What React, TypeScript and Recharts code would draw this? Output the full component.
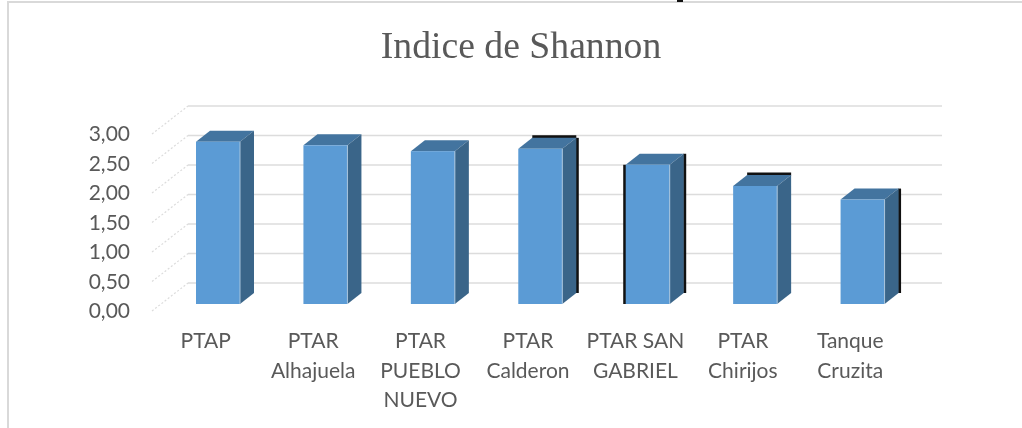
import { Bar, BarChart, CartesianGrid, XAxis, YAxis } from "recharts";

const categories = [
  "PTAP",
  "PTAR Alhajuela",
  "PTAR PUEBLO NUEVO",
  "PTAR Calderon",
  "PTAR SAN GABRIEL",
  "PTAR Chirijos",
  "Tanque Cruzita",
];
const shannon = [2.75, 2.69, 2.59, 2.63, 2.36, 2.0, 1.77];
const yTicks = [0, 0.5, 1, 1.5, 2, 2.5, 3];

// the axis labels wrap differently from what the width would give
const categoryLines: Record<string, string[]> = {
  PTAP: ["PTAP"],
  "PTAR Alhajuela": ["PTAR", "Alhajuela"],
  "PTAR PUEBLO NUEVO": ["PTAR", "PUEBLO", "NUEVO"],
  "PTAR Calderon": ["PTAR", "Calderon"],
  "PTAR SAN GABRIEL": ["PTAR SAN", "GABRIEL"],
  "PTAR Chirijos": ["PTAR", "Chirijos"],
  "Tanque Cruzita": ["Tanque", "Cruzita"],
};

const chartData = categories.map((name, i) => ({ name, shannon: shannon[i] }));

const FONT = "Lato, 'Open Sans', sans-serif";
const TEXT = "#595959";
const GRID = "#dcdcdc";

// fake 3D: where the bar sits in the box and how deep it is
const BAR_DX = 12;
const BAR_DY = -7;
const DEPTH_X = 14;
const DEPTH_Y = -11;
const WALL_DX = 36;
const WALL_DY = -28;

// black render glitches along some bars in the original
const blackEdges: Record<string, string[]> = {
  "PTAR Calderon": ["top", "right"],
  "PTAR SAN GABRIEL": ["left", "right"],
  "PTAR Chirijos": ["top"],
  "Tanque Cruzita": ["right"],
};

function Bar3D(props: any) {
  const { x, y, width, height, payload } = props;
  const l = x + BAR_DX;
  const r = l + width;
  const t = y + BAR_DY;
  const b = t + height;
  const edges = blackEdges[payload.name] ?? [];
  return (
    <g>
      {edges.includes("top") && (
        <line x1={l + DEPTH_X} y1={t + DEPTH_Y - 1} x2={r + DEPTH_X} y2={t + DEPTH_Y - 1} stroke="#111" strokeWidth={3} />
      )}
      {edges.includes("right") && (
        <line x1={r + DEPTH_X + 1} y1={t + DEPTH_Y} x2={r + DEPTH_X + 1} y2={b + DEPTH_Y} stroke="#111" strokeWidth={3} />
      )}
      {edges.includes("left") && (
        <line x1={l - 1} y1={t} x2={l - 1} y2={b} stroke="#111" strokeWidth={3} />
      )}
      <polygon
        points={`${l},${t} ${l + DEPTH_X},${t + DEPTH_Y} ${r + DEPTH_X},${t + DEPTH_Y} ${r},${t}`}
        fill="#43749f"
      />
      <polygon
        points={`${r},${t} ${r + DEPTH_X},${t + DEPTH_Y} ${r + DEPTH_X},${b + DEPTH_Y} ${r},${b}`}
        fill="#3a6589"
      />
      <rect x={l} y={t} width={width} height={height} fill="#5b9bd5" />
      <line x1={r} y1={t} x2={r} y2={b} stroke="#a8c4dc" strokeWidth={1} />
    </g>
  );
}

// gridlines go on the back wall, with a dotted diagonal down to the tick label
function WallLine(props: any) {
  const { x1, x2, y1 } = props;
  return (
    <g>
      <line
        x1={x1 + WALL_DX}
        y1={y1 + WALL_DY}
        x2={x2 + WALL_DX + 2}
        y2={y1 + WALL_DY}
        stroke={GRID}
        strokeWidth={1.5}
      />
      <line
        x1={x1}
        y1={y1}
        x2={x1 + WALL_DX}
        y2={y1 + WALL_DY}
        stroke={GRID}
        strokeWidth={1.2}
        strokeDasharray="2 2"
      />
    </g>
  );
}

function CategoryTick({ x, y, payload }: any) {
  const lines = categoryLines[payload.value] ?? [payload.value];
  return (
    <text x={x} y={y} textAnchor="middle" fill={TEXT} fontSize={21} fontFamily={FONT}>
      {lines.map((line, i) => (
        <tspan key={i} x={x} y={y + 29 + i * 29.5}>
          {line}
        </tspan>
      ))}
    </text>
  );
}

export default function App() {
  return (
    <div
      style={{
        position: "absolute",
        left: 0,
        top: 0,
        width: 1022,
        height: 428,
        background: "#fff",
        overflow: "hidden",
        filter: "blur(0.6px)",
      }}
    >
      <div
        style={{
          position: "absolute",
          left: 7,
          top: 1,
          right: 0,
          bottom: 0,
          borderLeft: "2px solid #d9d9d9",
          borderTop: "2px solid #d9d9d9",
        }}
      />
      {/* tail of a letter from the page above, cut off by the crop */}
      <div style={{ position: "absolute", left: 677, top: 0, width: 6, height: 2, background: "#111" }} />
      <div
        style={{
          position: "absolute",
          left: 0,
          width: 1042,
          top: 23,
          textAlign: "center",
          fontFamily: "'Liberation Serif', serif",
          fontSize: 37.7,
          color: TEXT,
        }}
      >
        Indice de Shannon
      </div>
      <div style={{ position: "absolute", left: 0, top: 0 }}>
        <BarChart
          width={1022}
          height={428}
          data={chartData}
          barSize={44}
          margin={{ top: 134, right: 118, bottom: 17, left: 72 }}
        >
          <CartesianGrid vertical={false} horizontal={(p: any) => <WallLine key={p.key} {...p} />} />
          <XAxis
            dataKey="name"
            axisLine={false}
            tickLine={false}
            height={100}
            interval={0}
            tick={<CategoryTick />}
          />
          <YAxis
            domain={[0, 3]}
            ticks={yTicks}
            interval={0}
            width={80}
            axisLine={false}
            tickLine={false}
            tickMargin={16}
            tick={{ fontSize: 21, fill: TEXT, fontFamily: FONT }}
            tickFormatter={(v: number) => v.toFixed(2).replace(".", ",")}
          />
          <Bar dataKey="shannon" isAnimationActive={false} shape={<Bar3D />} />
        </BarChart>
      </div>
    </div>
  );
}
